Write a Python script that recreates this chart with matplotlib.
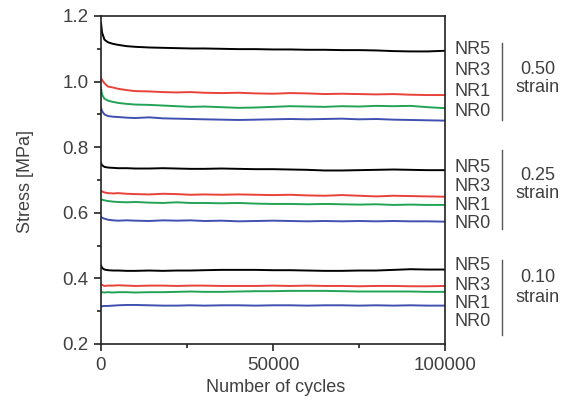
import matplotlib
matplotlib.use("Agg")
import matplotlib.pyplot as plt

plt.rcParams['font.family'] = ['Liberation Sans', 'DejaVu Sans']

# cycle positions shared by all series
cycles = [0, 300, 1000, 2000, 3500, 5000, 7500, 10000, 14000, 18000, 22000, 26000, 30000,
          35000, 40000, 45000, 50000, 55000, 60000, 65000, 70000, 75000, 80000, 85000,
          90000, 95000, 100000]

# 0.50 strain
nr5_050 = [1.180, 1.150, 1.128, 1.120, 1.115, 1.112, 1.108, 1.106, 1.104, 1.103, 1.102, 1.101, 1.101,
           1.100, 1.099, 1.099, 1.098, 1.098, 1.097, 1.097, 1.096, 1.096, 1.095, 1.093, 1.092, 1.092, 1.094]
nr3_050 = [1.010, 1.005, 0.995, 0.985, 0.982, 0.978, 0.974, 0.971, 0.970, 0.968, 0.967, 0.968, 0.966,
           0.965, 0.966, 0.964, 0.963, 0.965, 0.964, 0.962, 0.963, 0.962, 0.961, 0.962, 0.960, 0.959, 0.959]
nr1_050 = [0.980, 0.960, 0.948, 0.942, 0.938, 0.935, 0.932, 0.930, 0.929, 0.927, 0.925, 0.923, 0.924,
           0.922, 0.920, 0.921, 0.923, 0.925, 0.924, 0.923, 0.925, 0.924, 0.926, 0.925, 0.926, 0.922, 0.919]
nr0_050 = [0.920, 0.910, 0.900, 0.895, 0.893, 0.892, 0.890, 0.889, 0.891, 0.888, 0.887, 0.886, 0.885,
           0.884, 0.883, 0.884, 0.885, 0.886, 0.885, 0.886, 0.887, 0.885, 0.886, 0.884, 0.883, 0.882, 0.881]

# 0.25 strain
nr5_025 = [0.752, 0.745, 0.740, 0.738, 0.737, 0.736, 0.736, 0.735, 0.735, 0.736, 0.735, 0.734, 0.734,
           0.735, 0.734, 0.733, 0.733, 0.732, 0.731, 0.729, 0.729, 0.730, 0.731, 0.732, 0.731, 0.730, 0.730]
nr3_025 = [0.667, 0.665, 0.662, 0.660, 0.659, 0.660, 0.658, 0.657, 0.656, 0.658, 0.657, 0.655, 0.656,
           0.655, 0.656, 0.655, 0.654, 0.655, 0.653, 0.652, 0.654, 0.652, 0.650, 0.652, 0.651, 0.650, 0.649]
nr1_025 = [0.640, 0.640, 0.638, 0.636, 0.634, 0.633, 0.632, 0.633, 0.631, 0.630, 0.632, 0.630, 0.630,
           0.629, 0.630, 0.628, 0.627, 0.627, 0.626, 0.627, 0.626, 0.625, 0.626, 0.624, 0.625, 0.624, 0.624]
nr0_025 = [0.588, 0.585, 0.582, 0.579, 0.577, 0.576, 0.577, 0.576, 0.575, 0.577, 0.576, 0.577, 0.575,
           0.576, 0.574, 0.575, 0.576, 0.575, 0.574, 0.575, 0.574, 0.575, 0.574, 0.575, 0.574, 0.574, 0.573]

# 0.10 strain
nr5_010 = [0.440, 0.432, 0.427, 0.425, 0.424, 0.424, 0.423, 0.423, 0.424, 0.423, 0.424, 0.424, 0.425,
           0.426, 0.426, 0.426, 0.425, 0.425, 0.424, 0.423, 0.423, 0.424, 0.424, 0.426, 0.428, 0.427, 0.427]
nr3_010 = [0.382, 0.380, 0.377, 0.378, 0.378, 0.379, 0.378, 0.377, 0.378, 0.378, 0.377, 0.378, 0.378,
           0.377, 0.377, 0.377, 0.378, 0.377, 0.378, 0.377, 0.377, 0.376, 0.377, 0.377, 0.376, 0.376, 0.377]
nr1_010 = [0.360, 0.358, 0.357, 0.358, 0.357, 0.358, 0.358, 0.357, 0.358, 0.358, 0.359, 0.360, 0.359,
           0.359, 0.360, 0.361, 0.361, 0.362, 0.362, 0.362, 0.361, 0.360, 0.360, 0.360, 0.360, 0.359, 0.359]
nr0_010 = [0.314, 0.315, 0.316, 0.316, 0.317, 0.318, 0.319, 0.319, 0.318, 0.317, 0.317, 0.318, 0.317,
           0.318, 0.318, 0.317, 0.318, 0.318, 0.317, 0.318, 0.318, 0.317, 0.318, 0.317, 0.318, 0.317, 0.317]

sample_names = ["NR5", "NR3", "NR1", "NR0"]
strain_labels = ["0.50", "0.25", "0.10"]
groups = [
    [nr5_050, nr3_050, nr1_050, nr0_050],
    [nr5_025, nr3_025, nr1_025, nr0_025],
    [nr5_010, nr3_010, nr1_010, nr0_010],
]

colors = ["#000000", "#e8423a", "#22a355", "#4050b0"]
text_color = "#404040"
W, H = 566, 401


def fx(px):
    return px / W


def fy(py):
    return 1 - py / H


fig = plt.figure(figsize=(W / 100, H / 100), dpi=100)
ax = fig.add_axes([fx(101), fy(344), fx(445) - fx(101), fy(16) - fy(344)])

for series in groups:
    for values, c in zip(series, colors):
        ax.plot(cycles, values, color=c, lw=1.4)

ax.set_xlim(0, 100000)
ax.set_ylim(0.2, 1.2)
ax.set_xticks([0, 50000, 100000])
ax.set_xticks([25000, 75000], minor=True)
ax.set_yticks([0.2, 0.4, 0.6, 0.8, 1.0, 1.2])
ax.set_yticks([0.3, 0.5, 0.7, 0.9, 1.1], minor=True)
ax.tick_params(which='major', direction='out', length=5, width=1.2, color='#222222',
               labelsize=13.5, labelcolor=text_color, pad=4)
ax.tick_params(which='minor', direction='out', length=3, width=1.2, color='#222222')
for s in ax.spines.values():
    s.set_linewidth(1.2)
    s.set_color('#222222')

fig.text(fx(25), fy(182), "Stress [MPa]", rotation=90, ha='center', va='center',
         fontsize=13, color=text_color)
fig.text(fx(276), fy(388), "Number of cycles", ha='center', va='center',
         fontsize=13, color=text_color)

# right-hand group labels (pixel layout)
name_rows = [[50, 70.5, 91, 111.5], [168, 187, 205, 223], [266, 285, 304, 322]]
bar_spans = [(43, 120), (150, 229), (260, 335)]
strain_rows = [(70, 88), (176, 193), (278, 297)]
for rows, span, srow, strain in zip(name_rows, bar_spans, strain_rows, strain_labels):
    for y, name in zip(rows, sample_names):
        fig.text(fx(454), fy(y), name, ha='left', va='center', fontsize=13, color=text_color)
    fig.add_artist(plt.Line2D([fx(502), fx(502)], [fy(span[0]), fy(span[1])],
                              color='#555555', lw=1.0))
    fig.text(fx(538), fy(srow[0]), strain, ha='center', va='center', fontsize=13, color=text_color)
    fig.text(fx(538), fy(srow[1]), "strain", ha='center', va='center', fontsize=13, color=text_color)

fig.savefig("out.png", dpi=100)
